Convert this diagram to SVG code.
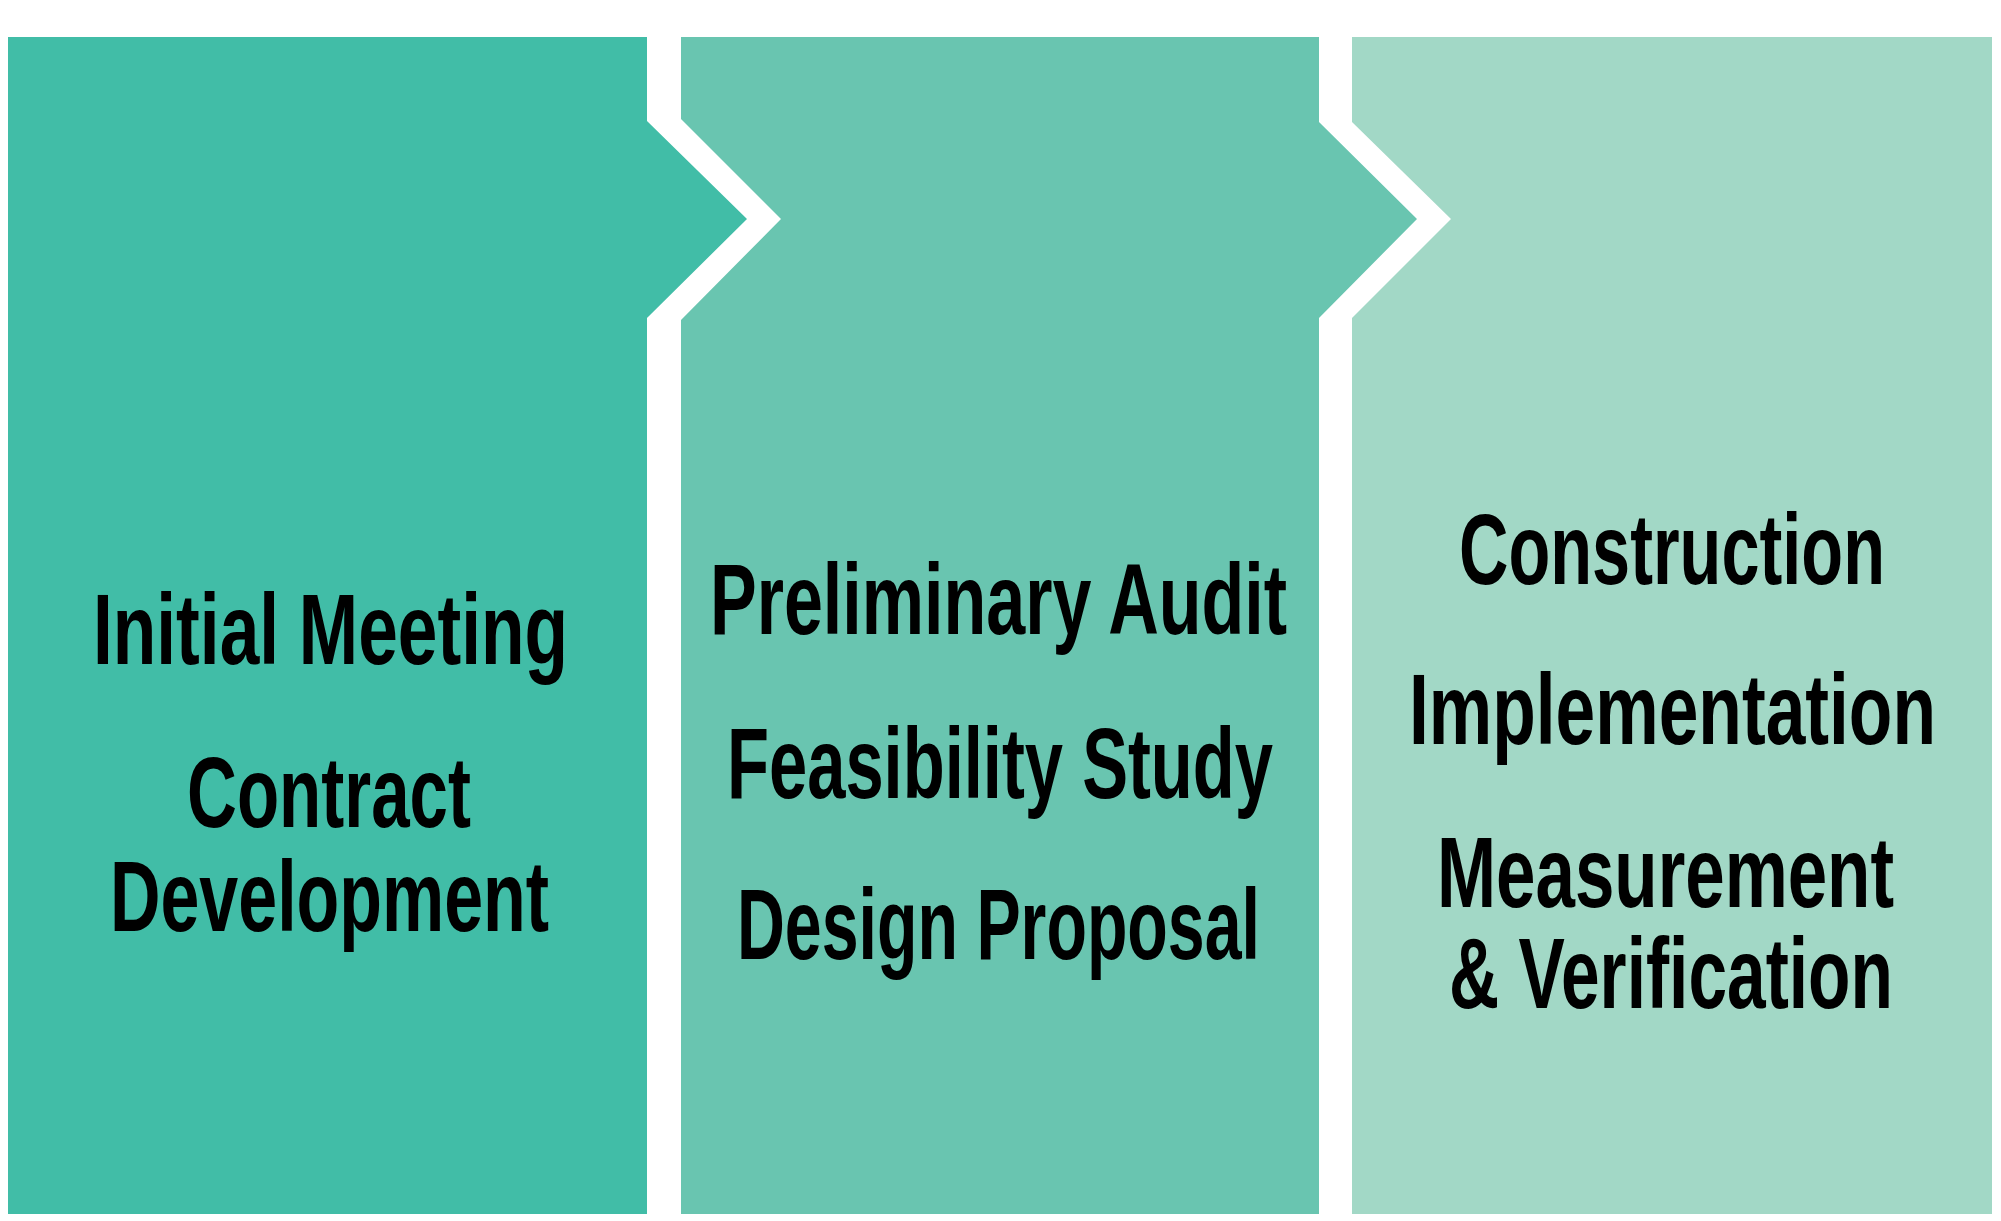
<svg xmlns="http://www.w3.org/2000/svg" width="2001" height="1221" viewBox="0 0 2001 1221">
  <style>
    .lbl { font-family: "Liberation Sans", Arial, sans-serif; font-weight: bold; font-size: 101px; fill: #000000; text-anchor: start; }
    .s1 { fill: #41BDA7; }
    .s2 { fill: #69C5B0; }
    .s3 { fill: #A2D8C6; }
  </style>
  <rect x="0" y="0" width="2001" height="1221" fill="#FFFFFF"/>
  <g id="step1">
    <path class="s1" d="M8,37 H647 V121 L747,219 L647,318 V1214 H8 Z"/>
    <text class="lbl" x="93" y="664" textLength="475" lengthAdjust="spacingAndGlyphs">Initial Meeting</text>
    <text class="lbl" x="187" y="827" textLength="284" lengthAdjust="spacingAndGlyphs">Contract</text>
    <text class="lbl" x="110" y="931" textLength="439" lengthAdjust="spacingAndGlyphs">Development</text>
  </g>
  <g id="step2">
    <path class="s2" d="M681,37 H1319 V122 L1417,219 L1319,318 V1214 H681 V320 L781,219 L681,119 Z"/>
    <text class="lbl" x="710" y="634" textLength="577" lengthAdjust="spacingAndGlyphs">Preliminary Audit</text>
    <text class="lbl" x="727" y="798" textLength="546" lengthAdjust="spacingAndGlyphs">Feasibility Study</text>
    <text class="lbl" x="737" y="959" textLength="523" lengthAdjust="spacingAndGlyphs">Design Proposal</text>
  </g>
  <g id="step3">
    <path class="s3" d="M1352,37 H1992 V1214 H1352 V318 L1451,219 L1352,122 Z"/>
    <text class="lbl" x="1459" y="584" textLength="426" lengthAdjust="spacingAndGlyphs">Construction</text>
    <text class="lbl" x="1409" y="744" textLength="527" lengthAdjust="spacingAndGlyphs">Implementation</text>
    <text class="lbl" x="1437" y="907" textLength="457" lengthAdjust="spacingAndGlyphs">Measurement</text>
    <text class="lbl" x="1449" y="1008" textLength="444" lengthAdjust="spacingAndGlyphs">&amp; Verification</text>
  </g>
</svg>
